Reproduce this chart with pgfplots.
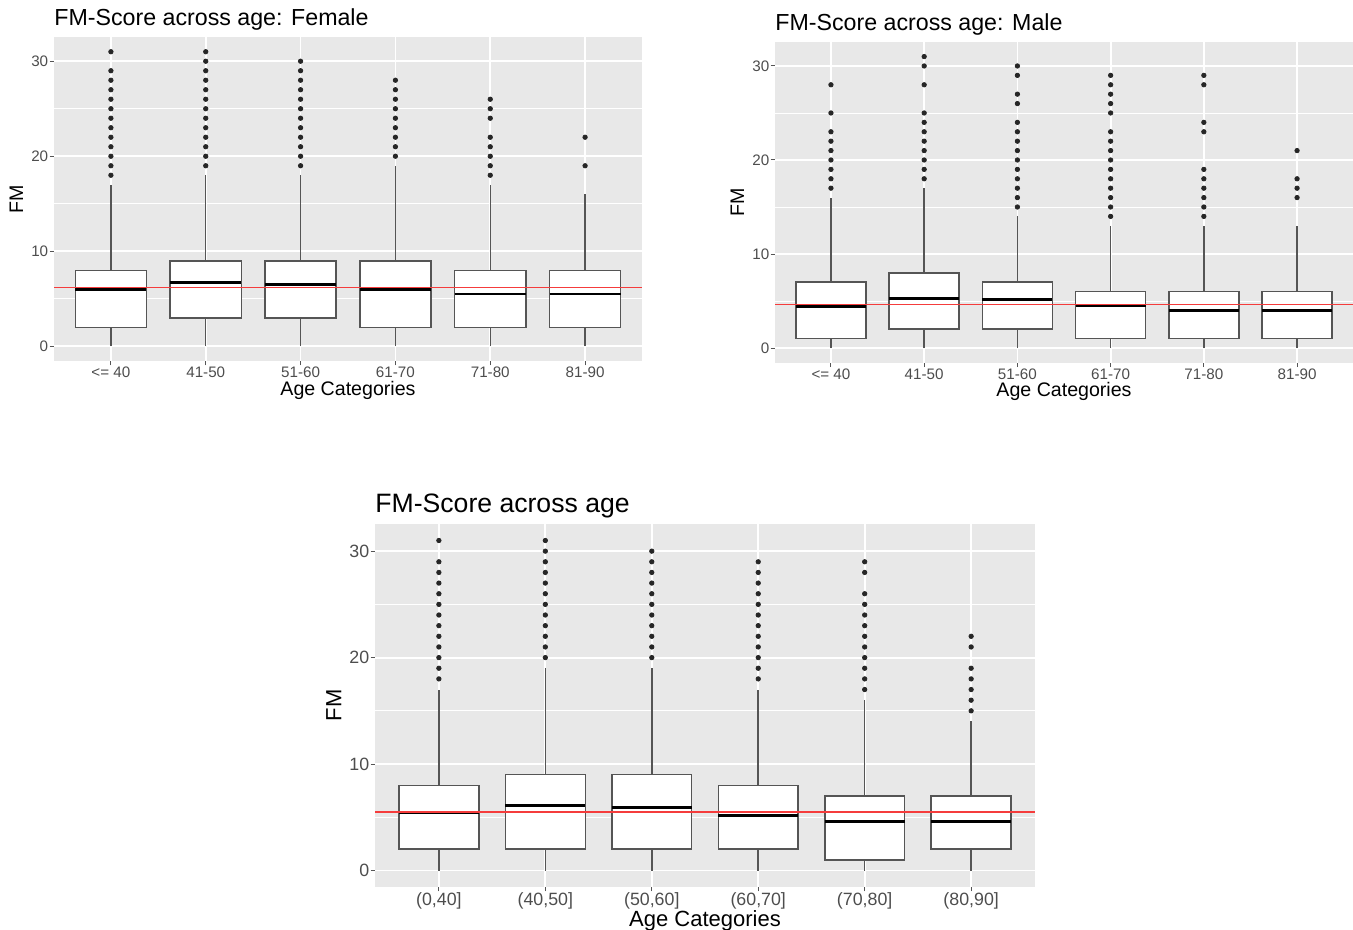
\documentclass[border=0pt]{standalone}
\usepackage{fontspec}
\setmainfont{Liberation Sans}
\usepackage{pgfplots}
\usepgfplotslibrary{statistics}
\pgfplotsset{compat=1.18}

\definecolor{panelbg}{RGB}{232,232,232}
\definecolor{tickgray}{RGB}{77,77,77}
\definecolor{boxgray}{RGB}{85,85,85}
\definecolor{meanred}{RGB}{245,60,60}

\pgfplotsset{
  ggpanel/.style={
    scale only axis,
    anchor=south west,
    xmin=0.4, xmax=6.6,
    ymin=-1.55, ymax=32.55,
    xtick={1,2,3,4,5,6},
    ytick={0,10,20,30},
    minor ytick={5,15,25},
    grid=both,
    major grid style={white, line width=0.9pt},
    minor grid style={white, line width=0.45pt},
    axis background/.style={fill=panelbg},
    axis line style={draw=none},
    tick pos=left,
    tick align=outside,
    major tick length=2.2pt,
    minor tick length=0pt,
    tick style={boxgray, line width=0.5pt},
    tick label style={text=tickgray, inner sep=0.5pt},
    xlabel style={inner sep=0pt, yshift=-1pt},
    /pgf/number format/assume math mode=true,
    every axis title/.style={at={(0,1)}, anchor=south west, inner sep=0pt, yshift=3pt},
    xlabel={Age Categories},
    ylabel={FM},
    boxplot/box extend=0.75,
    boxplot/whisker extend=0,
    boxplot/every box/.style={draw=boxgray, fill=white, line width=0.75pt},
    boxplot/every whisker/.style={draw=boxgray, line width=0.75pt},
    boxplot/every median/.style={draw=black, line width=1.4pt},
  },
  ggb/.style={
    black, mark=*, mark size=1.1pt,
    mark options={fill=black!85, draw=black!85, solid},
    boxplot/draw direction=y,
    boxplot prepared={#1},
  },
  % mean line drawn as a thin filled band (mean +- 0.07)
  meanband/.style={draw=none, fill=meanred, mark=none, forget plot},
}

\begin{document}
\begin{tikzpicture}
\useasboundingbox (0,0) rectangle (676.5pt,-465pt);

% Female
\begin{axis}[ggpanel,
  at={(27pt,-180.5pt)}, width=294pt, height=162pt,
  title={FM-Score across age: Female},
  title style={font=\fontsize{11.6}{13}\selectfont},
  label style={font=\fontsize{9.8}{11}\selectfont},
  tick label style={font=\fontsize{7.6}{9}\selectfont},
  xticklabels={{<= 40},41-50,51-60,61-70,71-80,81-90},
]
\addplot[ggb={draw position=1, lower whisker=0, lower quartile=2, median=6, upper quartile=8, upper whisker=17}]
  coordinates {(1,18)(1,19)(1,20)(1,21)(1,22)(1,23)(1,24)(1,25)(1,26)(1,27)(1,28)(1,29)(1,31)};
\addplot[ggb={draw position=2, lower whisker=0, lower quartile=3, median=6.7, upper quartile=9, upper whisker=18}]
  coordinates {(2,19)(2,20)(2,21)(2,22)(2,23)(2,24)(2,25)(2,26)(2,27)(2,28)(2,29)(2,30)(2,31)};
\addplot[ggb={draw position=3, lower whisker=0, lower quartile=3, median=6.5, upper quartile=9, upper whisker=18}]
  coordinates {(3,19)(3,20)(3,21)(3,22)(3,23)(3,24)(3,25)(3,26)(3,27)(3,28)(3,29)(3,30)};
\addplot[ggb={draw position=4, lower whisker=0, lower quartile=2, median=6, upper quartile=9, upper whisker=19}]
  coordinates {(4,20)(4,21)(4,22)(4,23)(4,24)(4,25)(4,26)(4,27)(4,28)};
\addplot[ggb={draw position=5, lower whisker=0, lower quartile=2, median=5.5, upper quartile=8, upper whisker=17}]
  coordinates {(5,18)(5,19)(5,20)(5,21)(5,22)(5,24)(5,25)(5,26)};
\addplot[ggb={draw position=6, lower whisker=0, lower quartile=2, median=5.5, upper quartile=8, upper whisker=16}]
  coordinates {(6,19)(6,22)};
\addplot[meanband] coordinates {(0.4,6.13) (6.6,6.13) (6.6,6.27) (0.4,6.27)};
\end{axis}

% Male
\begin{axis}[ggpanel,
  at={(387.5pt,-181.3pt)}, width=289pt, height=160.3pt,
  title={FM-Score across age: Male},
  title style={font=\fontsize{11.6}{13}\selectfont},
  label style={font=\fontsize{9.8}{11}\selectfont},
  tick label style={font=\fontsize{7.6}{9}\selectfont},
  xticklabels={{<= 40},41-50,51-60,61-70,71-80,81-90},
]
\addplot[ggb={draw position=1, lower whisker=0, lower quartile=1, median=4.4, upper quartile=7, upper whisker=16}]
  coordinates {(1,17)(1,18)(1,19)(1,20)(1,21)(1,22)(1,23)(1,25)(1,28)};
\addplot[ggb={draw position=2, lower whisker=0, lower quartile=2, median=5.25, upper quartile=8, upper whisker=17}]
  coordinates {(2,18)(2,19)(2,20)(2,21)(2,22)(2,23)(2,24)(2,25)(2,28)(2,30)(2,31)};
\addplot[ggb={draw position=3, lower whisker=0, lower quartile=2, median=5.2, upper quartile=7, upper whisker=14}]
  coordinates {(3,15)(3,16)(3,17)(3,18)(3,19)(3,20)(3,21)(3,22)(3,23)(3,24)(3,26)(3,27)(3,29)(3,30)};
\addplot[ggb={draw position=4, lower whisker=0, lower quartile=1, median=4.5, upper quartile=6, upper whisker=13}]
  coordinates {(4,14)(4,15)(4,16)(4,17)(4,18)(4,19)(4,20)(4,21)(4,22)(4,23)(4,25)(4,26)(4,27)(4,28)(4,29)};
\addplot[ggb={draw position=5, lower whisker=0, lower quartile=1, median=4, upper quartile=6, upper whisker=13}]
  coordinates {(5,14)(5,15)(5,16)(5,17)(5,18)(5,19)(5,23)(5,24)(5,28)(5,29)};
\addplot[ggb={draw position=6, lower whisker=0, lower quartile=1, median=4, upper quartile=6, upper whisker=13}]
  coordinates {(6,16)(6,17)(6,18)(6,21)};
\addplot[meanband] coordinates {(0.4,4.53) (6.6,4.53) (6.6,4.67) (0.4,4.67)};
\end{axis}

% All
\begin{axis}[ggpanel,
  at={(187.5pt,-443.5pt)}, width=330pt, height=181.5pt,
  title={FM-Score across age},
  title style={font=\fontsize{13.3}{15}\selectfont},
  label style={font=\fontsize{11}{13}\selectfont},
  xlabel style={yshift=1pt},
  tick label style={font=\fontsize{8.9}{10}\selectfont},
  xticklabels={{(0,40]},{(40,50]},{(50,60]},{(60,70]},{(70,80]},{(80,90]}},
]
\addplot[ggb={draw position=1, lower whisker=0, lower quartile=2, median=5.4, upper quartile=8, upper whisker=17}]
  coordinates {(1,18)(1,19)(1,20)(1,21)(1,22)(1,23)(1,24)(1,25)(1,26)(1,27)(1,28)(1,29)(1,31)};
\addplot[ggb={draw position=2, lower whisker=0, lower quartile=2, median=6.1, upper quartile=9, upper whisker=19}]
  coordinates {(2,20)(2,21)(2,22)(2,23)(2,24)(2,25)(2,26)(2,27)(2,28)(2,29)(2,30)(2,31)};
\addplot[ggb={draw position=3, lower whisker=0, lower quartile=2, median=5.9, upper quartile=9, upper whisker=19}]
  coordinates {(3,20)(3,21)(3,22)(3,23)(3,24)(3,25)(3,26)(3,27)(3,28)(3,29)(3,30)};
\addplot[ggb={draw position=4, lower whisker=0, lower quartile=2, median=5.2, upper quartile=8, upper whisker=17}]
  coordinates {(4,18)(4,19)(4,20)(4,21)(4,22)(4,23)(4,24)(4,25)(4,26)(4,27)(4,28)(4,29)};
\addplot[ggb={draw position=5, lower whisker=0, lower quartile=1, median=4.6, upper quartile=7, upper whisker=16}]
  coordinates {(5,17)(5,18)(5,19)(5,20)(5,21)(5,22)(5,23)(5,24)(5,25)(5,26)(5,28)(5,29)};
\addplot[ggb={draw position=6, lower whisker=0, lower quartile=2, median=4.6, upper quartile=7, upper whisker=14}]
  coordinates {(6,15)(6,16)(6,17)(6,18)(6,19)(6,21)(6,22)};
\addplot[meanband] coordinates {(0.4,5.43) (6.6,5.43) (6.6,5.57) (0.4,5.57)};
\end{axis}
\end{tikzpicture}
\end{document}
